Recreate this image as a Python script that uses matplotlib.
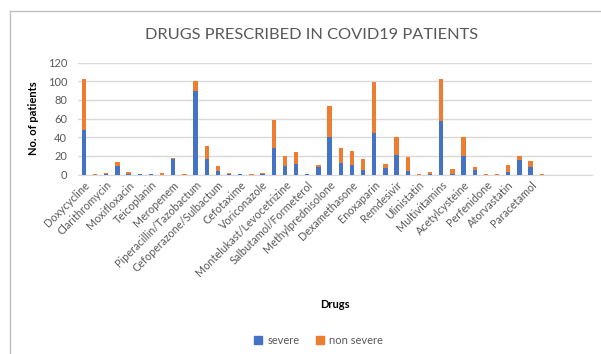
import matplotlib
matplotlib.use("Agg")
import matplotlib.pyplot as plt
import numpy as np
from matplotlib.lines import Line2D
from matplotlib.patches import Patch

plt.rcParams['font.family'] = ['Lato', 'DejaVu Sans']

# Drug names printed on every other category slot
drug_labels = [
    "Doxycycline", "Clarithromycin", "Moxifloxacin", "Teicoplanin", "Meropenem",
    "Piperacillin/Tazobactum", "Cefoperazone/Sulbactum", "Cefotaxime", "Voriconazole",
    "Montelukast/Levocetrizine", "Salbutamol/Formeterol", "Methylprednisolone",
    "Dexamethasone", "Enoxaparin", "Remdesivir", "Ulinistatin", "Multivitamins",
    "Acetylcysteine", "Perfenidone", "Atorvastatin", "Paracetamol", "", "",
]

# Patient counts per category slot (46 slots, the last ones empty)
severe = [48, 0, 1, 9, 1, 1, 1, 0, 17, 0, 90, 17, 4, 1, 1, 0, 1, 28, 9, 11, 1, 8, 40,
          12, 10, 5, 45, 7, 21, 4, 0, 1, 57, 1, 20, 5, 0, 0, 3, 16, 8, 0, 0, 0, 0, 0]
non_severe = [55, 1, 1, 4, 2, 0, 0, 2, 1, 1, 10, 14, 5, 1, 0, 1, 1, 31, 11, 13, 0, 2, 33,
              16, 15, 12, 54, 4, 19, 15, 1, 2, 45, 5, 20, 3, 1, 1, 7, 4, 6, 1, 0, 0, 0, 0]

blue = "#4472C4"
orange = "#ED7D31"
grey = "#595959"

fig = plt.figure(figsize=(6.01, 3.54), dpi=100)
ax = fig.add_axes([0.1303, 0.507, 0.985 - 0.1303, 0.823 - 0.507])

x = np.arange(len(severe))
ax.bar(x, severe, width=0.39, color=blue, zorder=3)
ax.bar(x, non_severe, width=0.39, bottom=severe, color=orange, zorder=3)

ax.set_xlim(-0.5, len(severe) - 0.5)
ax.set_ylim(0, 120)
ax.set_yticks(range(0, 121, 20))
ax.grid(axis='y', color="#D9D9D9", linewidth=1, zorder=0)
for side in ("top", "right", "left"):
    ax.spines[side].set_visible(False)
ax.spines["bottom"].set_color("#D9D9D9")
ax.tick_params(axis='both', length=0, colors=grey, labelsize=8)
ax.tick_params(axis='y', pad=8)

ax.set_xticks(np.arange(0, 2 * len(drug_labels), 2))
ax.set_xticklabels(drug_labels, rotation=45, ha='right', rotation_mode='anchor',
                   fontsize=7.8, color=grey)

ax.set_ylabel("No. of patients", fontsize=8, fontweight='bold', color="black", labelpad=6)
fig.text(0.558, 1 - 304 / 354, "Drugs", ha='center', va='center',
         fontsize=8, fontweight='bold', color="black")
fig.text(0.519, 1 - 35 / 354, "DRUGS PRESCRIBED IN COVID19 PATIENTS", ha='center',
         va='center', fontsize=11.8, color=grey)

handles = [Patch(color=blue, label="severe"), Patch(color=orange, label="non severe")]
fig.legend(handles=handles, loc='center', bbox_to_anchor=(0.53, 1 - 340 / 354), ncol=2,
           frameon=False, fontsize=8, labelcolor=grey, handlelength=0.7, handleheight=0.7,
           columnspacing=1.5, handletextpad=0.5)

# chart area border (top and left edges)
fig.add_artist(Line2D([10 / 601, 1.0], [1 - 11 / 354] * 2, color="#BFBFBF", linewidth=1))
fig.add_artist(Line2D([10 / 601] * 2, [0, 1 - 11 / 354], color="#BFBFBF", linewidth=1))

fig.savefig("out.png", dpi=100, facecolor="white")
